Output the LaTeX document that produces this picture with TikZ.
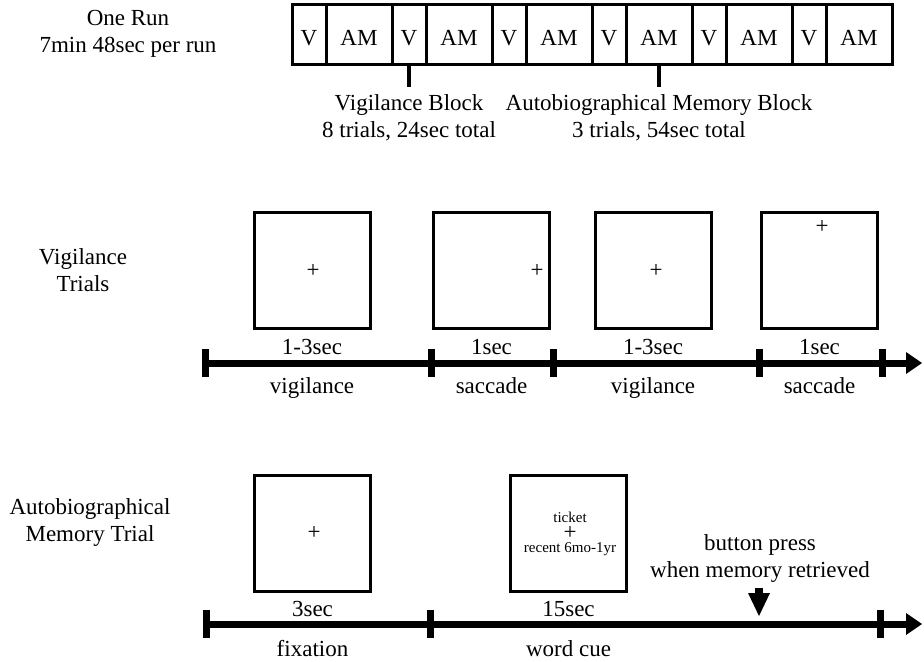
\documentclass[tikz,border=0pt]{standalone}
\usepackage{fontspec}
\setmainfont{Liberation Serif}
\usetikzlibrary{positioning, arrows.meta}

\begin{document}
\begin{tikzpicture}[x=0.5pt, y=-0.5pt, font=\fontsize{11.5}{13.5}\selectfont,
  cell/.style={draw, line width=1.5pt, minimum height=30pt, inner sep=0pt, outer sep=0pt, text height=11pt, text depth=0pt},
  vcell/.style={cell, minimum width=17pt},
  amcell/.style={cell, minimum width=33pt},
  screen/.style={draw, line width=1.5pt, minimum width=58pt, minimum height=58pt, inner sep=0pt, outer sep=0pt},
  lbl/.style={inner sep=0pt},
  rowlbl/.style={align=center, inner sep=0pt, anchor=north},
  fixcross/.style={inner sep=0pt},
  cuetext/.style={inner sep=0pt, font=\fontsize{7.5}{9}\selectfont},
  timeline/.style={line width=3.5pt, -{Triangle[length=8pt, width=11pt, line width=0pt]}},
  tickmark/.style={line width=3.5pt},
  blkline/.style={line width=1.6pt},
  press/.style={line width=4pt, shorten <=2.5pt, -{Triangle[length=11.5pt, width=11pt, line width=0pt]}}]

\useasboundingbox (0,0) rectangle (924,662);

%% ── one run: sequence of blocks ──────────────────────────────────
\node[rowlbl] (run) at (128,10) {One Run\\7min 48sec per run};

\node[vcell] (c1) at (309,35) {V};
\node[amcell, right=0pt of c1] (c2) {AM};
\node[vcell, right=0pt of c2] (c3) {V};
\node[amcell, right=0pt of c3] (c4) {AM};
\node[vcell, right=0pt of c4] (c5) {V};
\node[amcell, right=0pt of c5] (c6) {AM};
\node[vcell, right=0pt of c6] (c7) {V};
\node[amcell, right=0pt of c7] (c8) {AM};
\node[vcell, right=0pt of c8] (c9) {V};
\node[amcell, right=0pt of c9] (c10) {AM};
\node[vcell, right=0pt of c10] (c11) {V};
\node[amcell, right=0pt of c11] (c12) {AM};

\node[rowlbl, inner sep=3.6pt] (vblk) at (409,87) {Vigilance Block\\8 trials, 24sec total};
\node[rowlbl, inner sep=3.6pt] (amblk) at (659,87) {Autobiographical Memory Block\\3 trials, 54sec total};
\draw[blkline] (c3.south) -- (vblk.north);
\draw[blkline] (c8.south) -- (amblk.north);

%% ── vigilance trials ─────────────────────────────────────────────
\node[rowlbl] (vtr) at (83,248) {Vigilance\\Trials};

\node[screen] (b1) at (312,270.5) {};
\node[screen] (b2) at (491.5,270.5) {};
\node[screen] (b3) at (653,270.5) {};
\node[screen] (b4) at (819.5,270.5) {};
\node[fixcross] (x1) at (313,271) {+};
\node[fixcross] (x2) at (537,271) {+};
\node[fixcross] (x3) at (656,271) {+};
\node[fixcross] (x4) at (822,227) {+};

\node[lbl, below=5pt of b1] (d1) {1-3sec};
\node[lbl, below=5pt of b2] (d2) {1sec};
\node[lbl, below=5pt of b3] (d3) {1-3sec};
\node[lbl, below=5pt of b4] (d4) {1sec};
\node[lbl, below=11pt of d1] (p1) {vigilance};
\node[lbl, below=11pt of d2] (p2) {saccade};
\node[lbl, below=11pt of d3] (p3) {vigilance};
\node[lbl, below=11pt of d4] (p4) {saccade};

\coordinate (vt0) at (205,363);
\coordinate (vtend) at (922,363);
\draw[timeline] (vt0) -- (vtend);
\foreach \x in {205,431,553,759,882}
  \draw[tickmark] (\x,349) -- (\x,377);

%% ── autobiographical memory trial ────────────────────────────────
\node[rowlbl] (amtr) at (90,498) {Autobiographical\\Memory Trial};

\node[screen] (a1) at (312.5,533) {};
\node[screen] (a2) at (568.5,533) {};
\node[fixcross] (x5) at (314,533) {+};
\node[cuetext] (cue) at (570,517) {ticket};
\node[fixcross] (x6) at (570,533) {+};
\node[cuetext] (rec) at (570,549) {recent 6mo-1yr};

\node[lbl, below=5pt of a1] (d5) {3sec};
\node[lbl, below=5pt of a2] (d6) {15sec};
\node[lbl, below=11.5pt of d5] (p5) {fixation};
\node[lbl, below=11.5pt of d6] (p6) {word cue};

\coordinate (at0) at (206,624);
\coordinate (atend) at (922,624);
\draw[timeline] (at0) -- (atend);
\foreach \x in {206,430,880}
  \draw[tickmark] (\x,610) -- (\x,638);

\node[rowlbl] (btn) at (760,534) {button press\\when memory retrieved};
\coordinate (hit) at (759,616);
\draw[press] (btn.south -| hit) -- (hit);

\end{tikzpicture}
\end{document}
